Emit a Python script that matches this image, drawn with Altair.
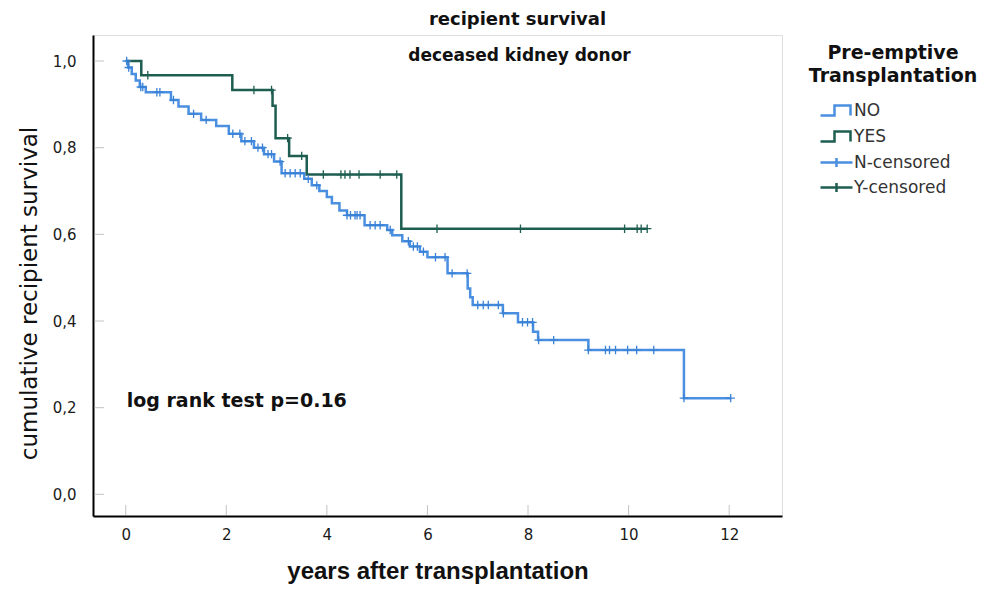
import altair as alt
import pandas as pd

# ---- data ----
no_times = [0.0, 0.05, 0.12, 0.2, 0.28, 0.4, 0.9, 1.05, 1.25, 1.5, 1.8, 2.05, 2.3, 2.55, 2.75, 2.95,
            3.1, 3.55, 3.7, 3.85, 4.0, 4.1, 4.25, 4.4, 4.75, 5.2, 5.3, 5.5, 5.65, 5.85, 6.0, 6.4, 6.8,
            6.85, 6.9, 7.5, 7.8, 8.1, 8.2, 9.2, 11.1]
no_surv = [1.0, 0.985, 0.97, 0.955, 0.94, 0.928, 0.91, 0.895, 0.878, 0.864, 0.85, 0.832, 0.815, 0.8,
           0.785, 0.768, 0.741, 0.728, 0.713, 0.7, 0.686, 0.672, 0.655, 0.644, 0.621, 0.61, 0.598,
           0.584, 0.572, 0.56, 0.547, 0.51, 0.475, 0.455, 0.437, 0.418, 0.397, 0.375, 0.356, 0.333, 0.222]
no_end = 12.03
no_censored = [0.02, 0.06, 0.3, 0.34, 0.62, 0.68, 0.95, 1.35, 1.6, 2.13, 2.27, 2.37, 2.5, 2.63, 2.72,
               2.83, 2.9, 3.07, 3.17, 3.27, 3.37, 3.47, 3.63, 3.8, 4.4, 4.47, 4.56, 4.6, 4.66, 4.86,
               4.96, 5.06, 5.26, 5.62, 5.72, 5.8, 5.92, 6.16, 6.35, 6.49, 6.79, 7.0, 7.11, 7.21, 7.41,
               7.51, 7.89, 7.99, 8.09, 8.21, 8.51, 9.2, 9.54, 9.62, 9.74, 9.98, 10.16, 10.5, 11.1, 12.03]

yes_times = [0.0, 0.31, 2.12, 2.92, 2.98, 3.25, 3.6, 5.48]
yes_surv = [1.0, 0.967, 0.933, 0.897, 0.822, 0.781, 0.738, 0.613]
yes_end = 10.37
yes_censored = [0.44, 2.55, 2.9, 3.22, 3.5, 3.93, 4.28, 4.36, 4.46, 4.64, 5.06, 5.39, 6.19, 7.85,
                9.92, 10.17, 10.25, 10.37]

x_ticks = [0, 2, 4, 6, 8, 10, 12]
y_ticks = [0.0, 0.2, 0.4, 0.6, 0.8, 1.0]

legend_names = ["NO", "YES", "N-censored", "Y-censored"]

BLUE = "#4A8FE0"
TEAL = "#1E5E51"
FONT = "DejaVu Sans"
XFONT = "Liberation Sans"


def surv_at(times, surv, t):
    s = surv[0]
    for tt, ss in zip(times, surv):
        if tt <= t:
            s = ss
    return s


def line_df(times, surv, end):
    return pd.DataFrame({"t": list(times) + [end], "s": list(surv) + [surv[-1]]})


def cens_df(times, surv, cens):
    return pd.DataFrame({"t": cens, "s": [surv_at(times, surv, c) for c in cens]})


W, H = 689, 481

x_scale = alt.Scale(domain=[-0.65, 13.05], nice=False, zero=False)
y_scale = alt.Scale(domain=[-0.05, 1.06], nice=False, zero=False)

x_enc = alt.X("t:Q", scale=x_scale, axis=alt.Axis(
    values=x_ticks, tickSize=0, grid=False, domainColor="black", domainWidth=2,
    labelFontSize=15, labelColor="#1a1a1a", labelFont=FONT, labelPadding=11,
    title="years after transplantation", titleFont=XFONT, titleFontSize=24, titleFontWeight="bold",
    titleColor="#111", titleY=55, titleBaseline="middle"))
y_enc = alt.Y("s:Q", scale=y_scale, axis=alt.Axis(
    values=y_ticks, tickSize=0, grid=False, domainColor="black", domainWidth=2,
    labelFontSize=15, labelColor="#1a1a1a", labelFont=FONT, labelPadding=17,
    labelExpr="replace(format(datum.value, '.1f'), '.', ',')",
    title="cumulative recipient survival", titleFont=FONT, titleFontSize=23, titleFontWeight="normal",
    titleColor="#111", titleX=-64, titleY=258, titleAngle=-90, titleAlign="center",
    titleBaseline="middle"))

plus_path = "M-1,0H1M0,-1V1"

no_line = alt.Chart(line_df(no_times, no_surv, no_end)).mark_line(
    interpolate="step-after", color=BLUE, strokeWidth=2.5).encode(x=x_enc, y=y_enc)
yes_line = alt.Chart(line_df(yes_times, yes_surv, yes_end)).mark_line(
    interpolate="step-after", color=TEAL, strokeWidth=2.5).encode(x=x_enc, y=y_enc)

no_c = alt.Chart(cens_df(no_times, no_surv, no_censored)).mark_point(
    shape=plus_path, size=70, filled=False, color="#3A82D6", strokeWidth=1.3, opacity=1).encode(x=x_enc, y=y_enc)
yes_c = alt.Chart(cens_df(yes_times, yes_surv, yes_censored)).mark_point(
    shape=plus_path, size=70, filled=False, color=TEAL, strokeWidth=1.3, opacity=1).encode(x=x_enc, y=y_enc)

# inward axis ticks
ytick_layer = alt.Chart(pd.DataFrame({"s": y_ticks})).mark_tick(
    orient="horizontal", color="#aaaaaa", thickness=1, size=10).encode(y=y_enc, x=alt.value(6))
xtick_layer = alt.Chart(pd.DataFrame({"t": x_ticks})).mark_tick(
    orient="vertical", color="#aaaaaa", thickness=1, size=10).encode(x=x_enc, y=alt.value(H - 6))

# annotations
ann_sub = alt.Chart(pd.DataFrame({"t": [7.83], "s": [1.012], "label": ["deceased kidney donor"]})).mark_text(
    font=FONT, fontSize=17, fontWeight="bold", color="#111", align="center", baseline="middle"
).encode(x=x_enc, y=y_enc, text="label:N")
ann_p = alt.Chart(pd.DataFrame({"t": [0.02], "s": [0.215], "label": ["log rank test p=0.16"]})).mark_text(
    font=FONT, fontSize=19, fontWeight="bold", color="#111", align="left", baseline="middle"
).encode(x=x_enc, y=y_enc, text="label:N")

# legend
leg = alt.Legend(
    title=["Pre-emptive", "Transplantation"], orient="none", legendX=716, legendY=9,
    titleFont=FONT, titleFontSize=19, titleFontWeight="bold", titleColor="#111",
    titleAlign="center", titleAnchor="middle", titleLineHeight=23, titlePadding=13,
    labelFont=FONT, labelFontSize=17, labelColor="#333", labelOffset=6, symbolOffset=-10,
    symbolSize=400, symbolOpacity=1, rowPadding=4)
step_path = "M-1.6,0.5H-0.2V-0.5H1.4V0.5"
short_plus = "M-1.6,0H1.6M0,-0.45V0.45"
legend_layer = alt.Chart(pd.DataFrame({"series": legend_names, "t": [0.0] * 4, "s": [1.0] * 4})).mark_point(
    opacity=0, filled=False).encode(
    x=x_enc, y=y_enc,
    color=alt.Color("series:N", scale=alt.Scale(domain=legend_names, range=[BLUE, TEAL, BLUE, TEAL]), legend=leg),
    shape=alt.Shape("series:N", scale=alt.Scale(domain=legend_names, range=[step_path, step_path, short_plus, short_plus]), legend=leg),
    strokeWidth=alt.StrokeWidth("series:N", scale=alt.Scale(domain=legend_names, range=[2.5, 2.5, 1, 1]), legend=leg),
)

chart = alt.layer(
    xtick_layer, ytick_layer, no_line, yes_line, no_c, yes_c, ann_sub, ann_p, legend_layer
).properties(
    width=W, height=H,
    title=alt.TitleParams("recipient survival", font=FONT, fontSize=18, fontWeight="bold",
                          color="#111", anchor="middle", dx=80, offset=6),
    autosize=alt.AutoSizeParams(type="none"),
    padding={"left": 85, "top": 27, "right": 196, "bottom": 69},
).configure_view(stroke=None).configure(background="white")

chart.save("out.html", embed_options={"renderer": "svg", "actions": False})
